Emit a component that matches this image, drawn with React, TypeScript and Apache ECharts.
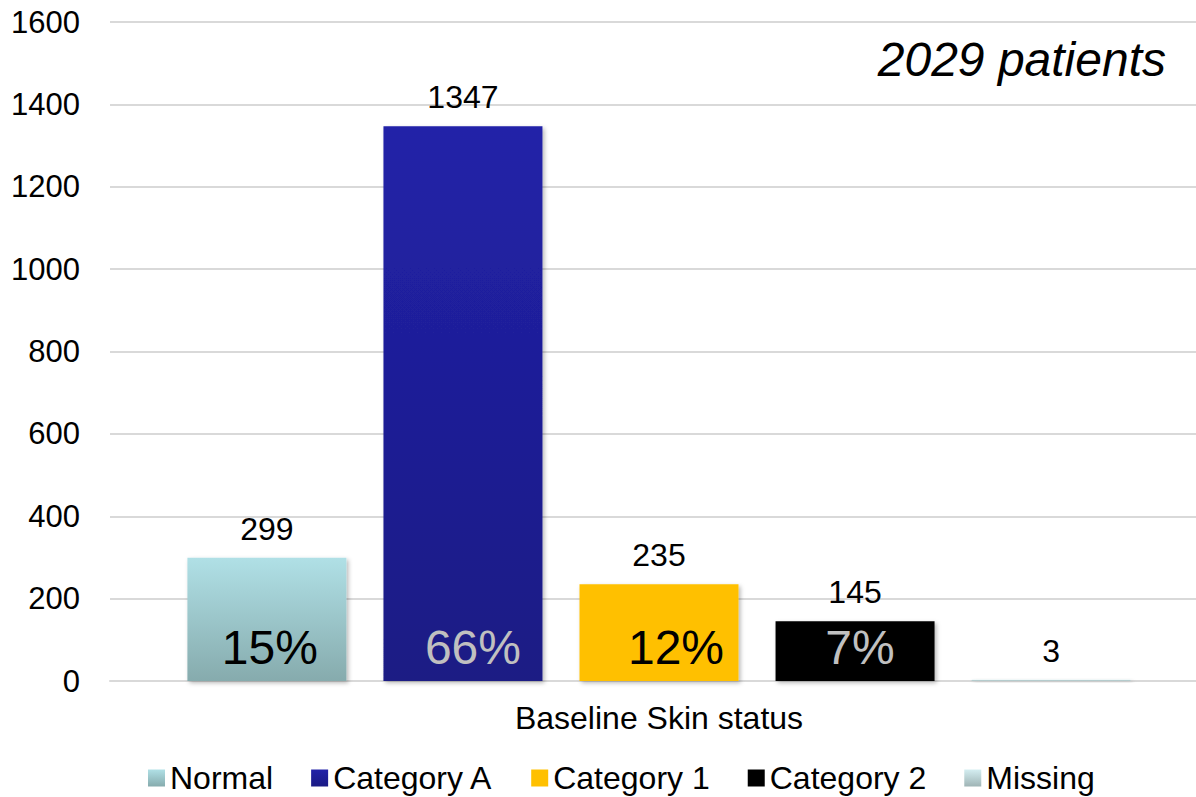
import React, { useEffect, useRef } from "react";
import * as echarts from "echarts";

// Patient counts by baseline skin status
const categories = ["Baseline Skin status"];
const seriesNames = ["Normal", "Category A", "Category 1", "Category 2", "Missing"];
const counts = [299, 1347, 235, 145, 3];
const shareLabels = ["15%", "66%", "12%", "7%", ""];
const yTicks = { min: 0, max: 1600, interval: 200 };
const totalLabel = "2029 patients";

const FONT = "'Liberation Sans', Arial, Helvetica, sans-serif";

// The plot runs a little past the right edge of the page, so the canvas is
// wider than the viewport and the overflow is hidden.
const CANVAS_W = 1220;
const VIEW_W = 1196;

const grad = (top: string, bottom: string) =>
  new echarts.graphic.LinearGradient(0, 0, 0, 1, [
    { offset: 0, color: top },
    { offset: 1, color: bottom },
  ]);

const fills = [
  grad("#B0E0E6", "#86ABAD"),
  grad("#2222A8", "#1A1A84"),
  grad("#FFC000", "#FFC000"),
  grad("#000000", "#000000"),
  grad("#D4EEF1", "#9FB4B5"),
];
const shareColors = ["#000000", "#C0C0C0", "#000000", "#C0C0C0", "#000000"];
const shareOffsets = [3, 10, 17, 5, 0];

export default function App() {
  const ref = useRef<HTMLDivElement>(null);

  useEffect(() => {
    document.body.style.margin = "0";
    document.body.style.overflow = "hidden";
    if (!ref.current) return;
    const chart = echarts.init(ref.current, null, { renderer: "svg" });

    const barCommon = {
      type: "bar" as const,
      barWidth: 159,
      barGap: "23.3%",
    };

    // Coloured bars with the counts above them
    const mainSeries = seriesNames.map((name, i) => ({
      ...barCommon,
      name,
      xAxisIndex: 0,
      data: [counts[i]],
      itemStyle: {
        color: fills[i],
        shadowBlur: 4,
        shadowOffsetX: 2,
        shadowOffsetY: 2,
        shadowColor: "rgba(0,0,0,0.28)",
      },
      label: {
        show: true,
        position: "top",
        distance: 13,
        fontFamily: FONT,
        fontSize: 32,
        color: "#000",
      },
    }));

    // Transparent twin bars that carry the share labels at the bar foot
    const shareSeries = seriesNames.map((name, i) => ({
      ...barCommon,
      name: name + " share",
      xAxisIndex: 1,
      data: [counts[i]],
      itemStyle: { color: "rgba(0,0,0,0)" },
      silent: true,
      z: 5,
      label: {
        show: true,
        position: "insideBottom",
        distance: 10,
        offset: [shareOffsets[i], 0],
        formatter: () => shareLabels[i],
        fontFamily: FONT,
        fontSize: 48,
        color: shareColors[i],
      },
    }));

    chart.setOption({
      animation: false,
      textStyle: { fontFamily: FONT },
      grid: { left: 110, top: 22, width: 1098, height: 659, containLabel: false },
      legend: {
        data: seriesNames,
        left: 143,
        top: 757,
        itemWidth: 17,
        itemHeight: 17,
        itemGap: 38,
        icon: "rect",
        textStyle: { fontFamily: FONT, fontSize: 32, color: "#000" },
      },
      xAxis: [
        {
          type: "category",
          data: categories,
          axisLine: { show: true, lineStyle: { color: "#D9D9D9", width: 2 } },
          axisTick: { show: false },
          axisLabel: { fontFamily: FONT, fontSize: 32, color: "#000", margin: 21 },
        },
        {
          type: "category",
          data: categories,
          show: false,
        },
      ],
      yAxis: {
        type: "value",
        min: yTicks.min,
        max: yTicks.max,
        interval: yTicks.interval,
        axisLine: { show: false },
        axisTick: { show: false },
        splitLine: { lineStyle: { color: "#D9D9D9", width: 2 } },
        axisLabel: {
          fontFamily: FONT,
          fontSize: 31,
          color: "#000",
          margin: 30,
          formatter: (v: number) => String(v),
        },
      },
      graphic: [
        {
          type: "text",
          right: 30 + (CANVAS_W - VIEW_W),
          top: 35,
          style: {
            text: totalLabel,
            font: `italic 48px ${FONT}`,
            fill: "#000",
          },
        },
      ],
      series: [...mainSeries, ...shareSeries],
    });

    return () => chart.dispose();
  }, []);

  return (
    <div style={{ width: VIEW_W, height: 797, overflow: "hidden" }}>
      <div ref={ref} style={{ width: CANVAS_W, height: 797 }} />
    </div>
  );
}
